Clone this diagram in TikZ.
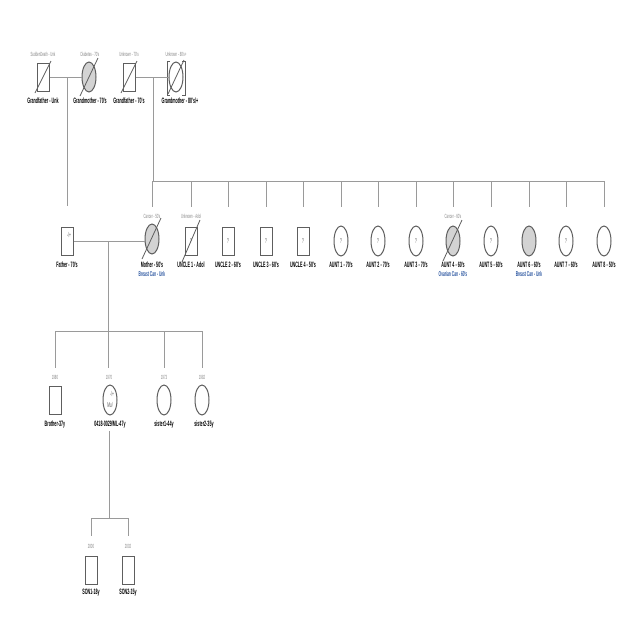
\documentclass[tikz,border=0pt]{standalone}
\usepackage{fontspec}
\setmainfont{Liberation Sans}
\newfontfamily\narrowfont[FakeStretch=0.47]{Liberation Sans}
\usetikzlibrary{shapes.geometric,calc}
\definecolor{linegray}{HTML}{9A9A9A}
\definecolor{edgegray}{HTML}{5E5E5E}
\definecolor{fillgray}{HTML}{D3D3D3}
\definecolor{notegray}{HTML}{858585}
\definecolor{condblue}{HTML}{2A55A0}
\tikzset{
  link/.style={draw=linegray, line width=0.7pt},
  male/.style={rectangle, draw=edgegray, line width=1pt, minimum width=12pt, minimum height=28pt, inner sep=0pt},
  female/.style={ellipse, draw=edgegray, line width=1pt, minimum width=14pt, minimum height=30pt, inner sep=0pt},
  affected/.style={fill=fillgray},
  slash/.style={draw=edgegray, line width=0.8pt},
  nametext/.style={font=\narrowfont\bfseries\fontsize{7.8}{8}\selectfont, text=black, inner sep=0pt},
  notetext/.style={font=\narrowfont\fontsize{6}{6}\selectfont, text=notegray, inner sep=0pt},
  condtext/.style={font=\narrowfont\bfseries\fontsize{7}{7}\selectfont, text=condblue, inner sep=0pt},
  tagtext/.style={font=\narrowfont\fontsize{7}{7}\selectfont, text=edgegray, inner sep=0pt},
}
\begin{document}
\begin{tikzpicture}[x=1pt,y=-1pt]
\useasboundingbox (0,0) rectangle (640,640);
\fill[white] (0,0) rectangle (640,640);

% ---------- grandparents ----------
\node[male] (gfa) at (43,77) {};
\node[female,affected] (gma) at (89,77) {};
\node[male] (gfb) at (129,77) {};
\node[female] (gmb) at (176,77) {};
\draw[slash] ($(gfa)+(-8,16)$) -- ($(gfa)+(8,-16)$);
\draw[slash] ($(gma)+(-9,19)$) -- ($(gma)+(9,-19)$);
\draw[slash] ($(gfb)+(-8,16)$) -- ($(gfb)+(8,-16)$);
\draw[slash] ($(gmb)+(-8,17)$) -- ($(gmb)+(8,-17)$);
% adoption brackets
\draw[edgegray, line width=1pt] (170,61) -- (167,61) -- (167,95) -- (170,95);
\draw[edgegray, line width=1pt] (182,61) -- (185,61) -- (185,95) -- (182,95);

\node[notetext] (gfa-n) at (43,54) {SuddenDeath - Unk};
\node[notetext] (gma-n) at (90,54) {Diabetes - 70's};
\node[notetext] (gfb-n) at (129,54) {Unknown - 70's};
\node[notetext] (gmb-n) at (176,54) {Unknown - 80's+};
\node[nametext] (gfa-l) at (43,101) {Grandfather - Unk};
\node[nametext] (gma-l) at (90,101) {Grandmother - 70's};
\node[nametext] (gfb-l) at (129,101) {Grandfather - 70's};
\node[nametext] (gmb-l) at (180,101) {Grandmother - 80's/+};

% ---------- parents and maternal siblings ----------
\node[male] (father) at (67,241) {};
\node[tagtext] at ($(father)+(2,-6)$) {-/+};
\node[female,affected] (mother) at (152,239) {};
\draw[slash] ($(mother)+(-10,20)$) -- ($(mother)+(9,-21)$);
\node[male] (u1) at (191,241) {};
\node[tagtext] at (u1) {?};
\draw[slash] ($(u1)+(-9,21)$) -- ($(u1)+(9,-21)$);
\node[male] (u2) at (228,241) {};
\node[tagtext] at (u2) {?};
\node[male] (u3) at (266,241) {};
\node[tagtext] at (u3) {?};
\node[male] (u4) at (303,241) {};
\node[tagtext] at (u4) {?};
\node[female] (a1) at (341,241) {};
\node[tagtext] at (a1) {?};
\node[female] (a2) at (378,241) {};
\node[tagtext] at (a2) {?};
\node[female] (a3) at (416,241) {};
\node[tagtext] at (a3) {?};
\node[female,affected] (a4) at (453,241) {};
\draw[slash] ($(a4)+(-10,20)$) -- ($(a4)+(9,-21)$);
\node[female] (a5) at (491,241) {};
\node[tagtext] at (a5) {?};
\node[female,affected] (a6) at (529,241) {};
\node[female] (a7) at (566,241) {};
\node[tagtext] at (a7) {?};
\node[female] (a8) at (604,241) {};

\node[notetext] (mother-n) at (152,216) {Cancer - 50's};
\node[notetext] (u1-n) at (191,216) {Unknown - Adol};
\node[notetext] (a4-n) at (453,216) {Cancer - 60's};

\node[nametext] (father-l) at (67,265) {Father - 70's};
\node[nametext] (mother-l) at (152,265) {Mother - 50's};
\node[condtext] (mother-c) at (152,274) {Breast Can - Unk};
\node[nametext] (u1-l) at (191,265) {UNCLE 1 - Adol};
\node[nametext] (u2-l) at (228,265) {UNCLE 2 - 60's};
\node[nametext] (u3-l) at (266,265) {UNCLE 3 - 60's};
\node[nametext] (u4-l) at (303,265) {UNCLE 4 - 50's};
\node[nametext] (a1-l) at (341,265) {AUNT 1 - 70's};
\node[nametext] (a2-l) at (378,265) {AUNT 2 - 70's};
\node[nametext] (a3-l) at (416,265) {AUNT 3 - 70's};
\node[nametext] (a4-l) at (453,265) {AUNT 4 - 60's};
\node[condtext] (a4-c) at (453,274) {Ovarian Can - 60's};
\node[nametext] (a5-l) at (491,265) {AUNT 5 - 60's};
\node[nametext] (a6-l) at (529,265) {AUNT 6 - 60's};
\node[condtext] (a6-c) at (529,274) {Breast Can - Unk};
\node[nametext] (a7-l) at (566,265) {AUNT 7 - 60's};
\node[nametext] (a8-l) at (604,265) {AUNT 8 - 50's};

% ---------- generation III ----------
\node[male] (bro) at (55,400) {};
\node[female] (pro) at (110,400) {};
\node[tagtext] at ($(pro)+(2,-6)$) {-/+};
\node[tagtext] at ($(pro)+(0,5)$) {Mu/};
\node[female] (s1) at (164,400) {};
\node[female] (s2) at (202,400) {};
\node[notetext] (bro-y) at (55,377) {1980};
\node[notetext] (pro-y) at (109,377) {1970};
\node[notetext] (s1-y) at (164,377) {1973};
\node[notetext] (s2-y) at (202,377) {1982};
\node[nametext] (bro-l) at (55,424) {Brother-37y};
\node[nametext] (pro-l) at (110,424) {0418-0029/ML-47y};
\node[nametext] (s1-l) at (164,424) {sister1-44y};
\node[nametext] (s2-l) at (204,424) {sister2-35y};

% ---------- generation IV ----------
\node[male] (son1) at (91,570) {};
\node[male] (son2) at (128,570) {};
\node[notetext] (son1-y) at (91,546) {2000};
\node[notetext] (son2-y) at (128,546) {2002};
\node[nametext] (son1-l) at (91,593) {SON1-18y};
\node[nametext] (son2-l) at (128,593) {SON2-15y};

% ---------- connectors ----------
% couples
\draw[link] (gfa.east) -- (gma.west);
\draw[link] (gfb.east) -- (gmb.west);
\draw[link] (father.east) -- (mother.west |- father.east);
% paternal line
\coordinate (fa-top) at (67,206);
\draw[link] (67,77) -- (fa-top);
% maternal sibship
\coordinate (sib2) at (153,181);
\draw[link] (153,77) -- (sib2);
\draw[link, line width=1pt] (sib2) -- (604,181);
\foreach \n in {mother,u1,u2,u3,u4,a1,a2,a3,a4,a5,a6,a7,a8}{
  \draw[link] (\n |- sib2) -- (\n |- 0,207);
}
% sibship III
\coordinate (sib3) at (108,331);
\draw[link] (108,241) -- (sib3);
\draw[link] (bro |- sib3) -- (s2 |- sib3);
\foreach \n in {bro,s1,s2}{
  \draw[link] (\n |- sib3) -- (\n |- 0,368);
}
\draw[link] (sib3) -- (108,368);
% sibship IV, hanging below the proband's label
\coordinate (sib4) at (109,518);
\coordinate (pro-drop) at (109,431);
\draw[link] (pro-drop) -- (sib4);
\draw[link] (son1 |- sib4) -- (son2 |- sib4);
\foreach \n in {son1,son2}{
  \draw[link] (\n |- sib4) -- (\n |- 0,536);
}
\end{tikzpicture}
\end{document}
